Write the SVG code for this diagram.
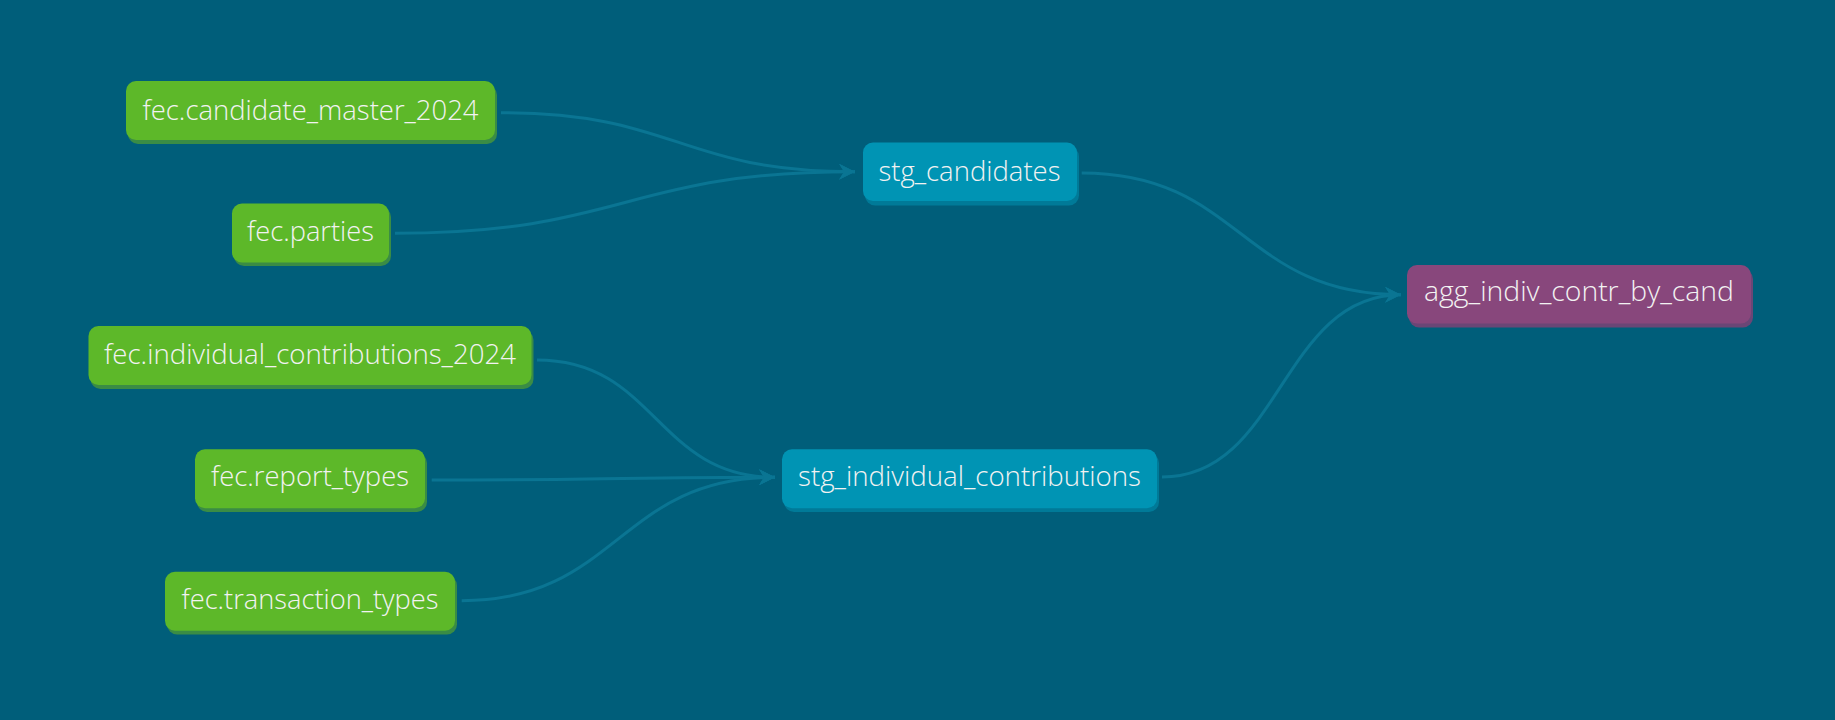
<svg xmlns="http://www.w3.org/2000/svg" width="1835" height="720" viewBox="0 0 1835 720">
  <defs>
    <marker id="arrow" markerUnits="userSpaceOnUse" markerWidth="20" markerHeight="18" refX="16" refY="8" orient="auto">
      <path d="M0,0 L16,8 L0,16 L5,8 z" fill="#0a7593"/>
    </marker>
    <style>
      .bg { fill: #005e7a; }
      .edge { fill: none; stroke: #0a7593; stroke-width: 3; }
      .src { fill: #5db829; }
      .src-sh { fill: #3a8c45; }
      .stg { fill: #0094b4; }
      .stg-sh { fill: #007a98; }
      .agg { fill: #88477c; }
      .agg-sh { fill: #6a4676; }
      .lbl { font-family: "Open Sans", "Noto Sans", "DejaVu Sans", sans-serif; font-size: 28px; font-weight: 300; fill: #f2f2f2; text-anchor: middle; }
    </style>
  </defs>
  <rect class="bg" x="0" y="0" width="1835" height="720"/>

  <g id="connectors">
    <path class="edge" d="M501,112.7 C678,112.7 678,171.7 855,171.7" marker-end="url(#arrow)"/>
    <path class="edge" d="M395,233.3 C625,233.3 625,171.7 855,171.7" marker-end="url(#arrow)"/>
    <path class="edge" d="M537,360 C656,360 656,477.3 775,477.3" marker-end="url(#arrow)"/>
    <path class="edge" d="M431.7,480 C603,480 603,477.3 775,477.3" marker-end="url(#arrow)"/>
    <path class="edge" d="M461.7,600.7 C618,600.7 618,477.3 775,477.3" marker-end="url(#arrow)"/>
    <path class="edge" d="M1081.7,173 C1241,173 1241,294.7 1401,294.7" marker-end="url(#arrow)"/>
    <path class="edge" d="M1162,477 C1281,477 1281,294.7 1401,294.7" marker-end="url(#arrow)"/>
  </g>

  <g id="fec_candidate_master_2024">
    <rect class="src-sh" x="128" y="85" width="369" height="59" rx="10"/>
    <rect class="src" x="126" y="81" width="369" height="59" rx="10"/>
    <text class="lbl" x="310.5" y="119.5" textLength="336" lengthAdjust="spacingAndGlyphs">fec.candidate_master_2024</text>
  </g>
  <g id="fec_parties">
    <rect class="src-sh" x="234" y="207" width="157" height="59" rx="10"/>
    <rect class="src" x="232" y="203.5" width="157" height="59" rx="10"/>
    <text class="lbl" x="310.5" y="241" textLength="127" lengthAdjust="spacingAndGlyphs">fec.parties</text>
  </g>
  <g id="fec_individual_contributions_2024">
    <rect class="src-sh" x="90.5" y="330" width="443" height="59" rx="10"/>
    <rect class="src" x="88.5" y="326" width="443" height="59" rx="10"/>
    <text class="lbl" x="310" y="363.5" textLength="412" lengthAdjust="spacingAndGlyphs">fec.individual_contributions_2024</text>
  </g>
  <g id="fec_report_types">
    <rect class="src-sh" x="197" y="453" width="230" height="59" rx="10"/>
    <rect class="src" x="195" y="449.3" width="230" height="59" rx="10"/>
    <text class="lbl" x="310" y="486" textLength="198" lengthAdjust="spacingAndGlyphs">fec.report_types</text>
  </g>
  <g id="fec_transaction_types">
    <rect class="src-sh" x="167" y="575.5" width="290" height="59" rx="10"/>
    <rect class="src" x="165" y="571.7" width="290" height="59" rx="10"/>
    <text class="lbl" x="310" y="608.5" textLength="257" lengthAdjust="spacingAndGlyphs">fec.transaction_types</text>
  </g>
  <g id="stg_candidates">
    <rect class="stg-sh" x="865" y="146.5" width="214" height="59" rx="10"/>
    <rect class="stg" x="863" y="142.5" width="214" height="58.5" rx="10"/>
    <text class="lbl" x="969.5" y="180.5" textLength="182" lengthAdjust="spacingAndGlyphs">stg_candidates</text>
  </g>
  <g id="stg_individual_contributions">
    <rect class="stg-sh" x="784" y="453" width="375" height="59" rx="10"/>
    <rect class="stg" x="782" y="449.3" width="375" height="59" rx="10"/>
    <text class="lbl" x="969.5" y="485.5" textLength="343" lengthAdjust="spacingAndGlyphs">stg_individual_contributions</text>
  </g>
  <g id="agg_indiv_contr_by_cand">
    <rect class="agg-sh" x="1409" y="269" width="344" height="58.5" rx="10"/>
    <rect class="agg" x="1407" y="265" width="344" height="58.5" rx="10"/>
    <text class="lbl" x="1579" y="301" textLength="310" lengthAdjust="spacingAndGlyphs">agg_indiv_contr_by_cand</text>
  </g>
</svg>
